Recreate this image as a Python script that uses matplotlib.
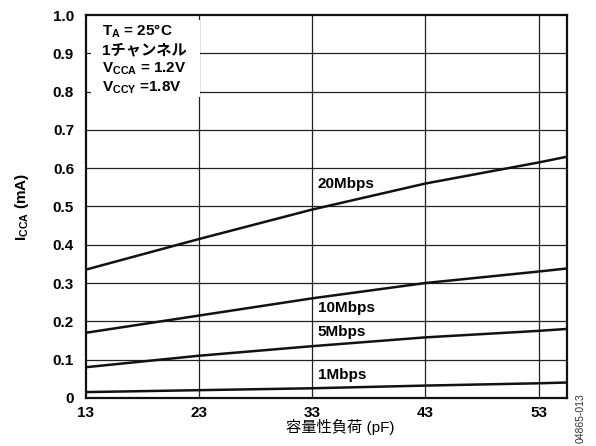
import matplotlib
matplotlib.use("Agg")
import matplotlib.pyplot as plt
from matplotlib.patches import Rectangle

plt.rcParams['font.family'] = ['Liberation Sans', 'Noto Sans CJK JP']
plt.rcParams['mathtext.fontset'] = 'custom'
plt.rcParams['mathtext.rm'] = 'Liberation Sans:bold'
plt.rcParams['mathtext.it'] = 'Liberation Sans:bold'
plt.rcParams['mathtext.bf'] = 'Liberation Sans:bold'

# load capacitance (pF)
cap = [13, 23, 33, 43, 53, 55.5]
# supply current ICCA (mA) per data rate
i_20m = [0.335, 0.415, 0.492, 0.560, 0.615, 0.630]
i_10m = [0.170, 0.215, 0.260, 0.300, 0.330, 0.338]
i_5m = [0.080, 0.110, 0.135, 0.158, 0.175, 0.180]
i_1m = [0.015, 0.020, 0.025, 0.032, 0.038, 0.040]

xticks = [13, 23, 33, 43, 53]
yticks = [0, 0.1, 0.2, 0.3, 0.4, 0.5, 0.6, 0.7, 0.8, 0.9, 1.0]
ytick_labels = ['0', '0.1', '0.2', '0.3', '0.4', '0.5', '0.6', '0.7', '0.8', '0.9', '1.0']

fig = plt.figure(figsize=(5.96, 4.46), dpi=100)
ax = fig.add_axes([0.144, 0.108, 0.807, 0.858])

for x in xticks[1:]:
    ax.axvline(x, color='#222222', lw=0.9, zorder=1)
for y in yticks[1:-1]:
    ax.axhline(y, color='#222222', lw=0.9, zorder=1)

# white box behind the conditions text
ax.add_patch(Rectangle((13.45, 0.785), 9.65, 0.202, facecolor='white',
                       edgecolor='none', zorder=2))

for series in (i_20m, i_10m, i_5m, i_1m):
    ax.plot(cap, series, color='#111111', lw=1.8, zorder=3)

lbl = dict(fontsize=11, fontweight='bold', zorder=4, va='center')
ax.text(33.5, 0.560, '20Mbps', **lbl)
ax.text(33.5, 0.236, '10Mbps', **lbl)
ax.text(33.5, 0.173, '5Mbps', **lbl)
ax.text(33.5, 0.060, '1Mbps', **lbl)

cond = dict(fontsize=11, fontweight='bold', zorder=4, va='center')
ax.text(14.4, 0.958, r'$\mathrm{T_A}$ = 25°C', **cond)
ax.text(14.4, 0.908, '1チャンネル', **cond)
ax.text(14.4, 0.859, r'$\mathrm{V_{CCA}}$ = 1.2V', **cond)
ax.text(14.4, 0.809, r'$\mathrm{V_{CCY}}$ =1.8V', **cond)

ax.set_xlim(13, 55.5)
ax.set_ylim(0, 1.0)
ax.set_xticks(xticks)
ax.set_xticklabels([str(x) for x in xticks], fontsize=11, fontweight='bold')
ax.set_yticks(yticks)
ax.set_yticklabels(ytick_labels, fontsize=11, fontweight='bold')
ax.tick_params(axis='y', length=0, pad=8.5)
ax.tick_params(axis='x', length=0, pad=6)
for s in ax.spines.values():
    s.set_linewidth(1.6)
    s.set_color('#111111')

ax.set_ylabel(r'$\mathrm{I_{CCA}}$ (mA)', fontsize=11, fontweight='bold', labelpad=16)
ax.set_xlabel('容量性負荷 (pF)', fontsize=11, labelpad=2)
ax.xaxis.set_label_coords(0.53, -0.055)

fig.text(0.975, 0.006, '04865-013', rotation=90, fontsize=7.5, ha='center', va='bottom',
         color='#333333')

fig.savefig('out.png', dpi=100)
